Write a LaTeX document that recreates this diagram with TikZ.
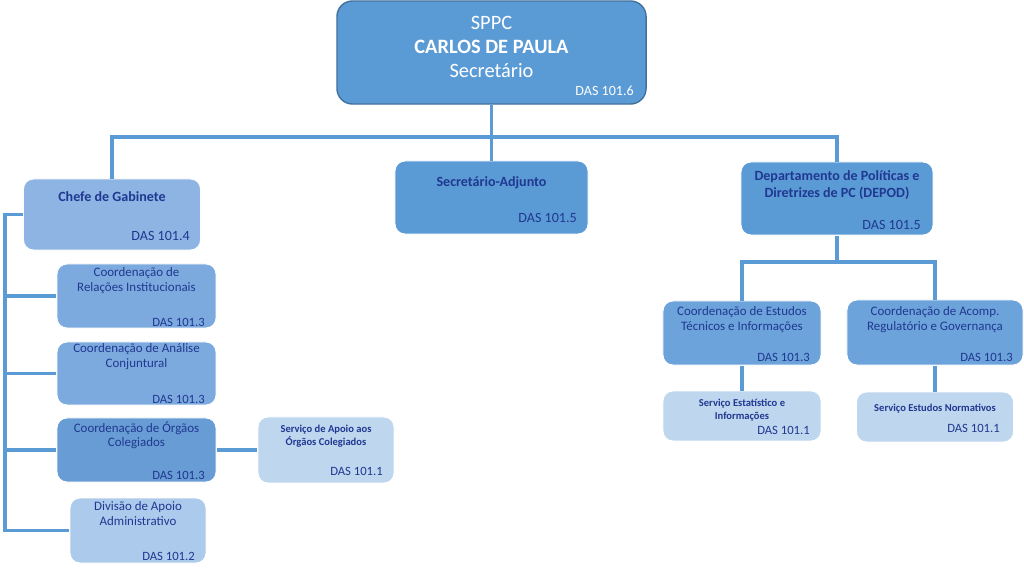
\documentclass[tikz,border=0pt]{standalone}
\usepackage{fontspec}
\setmainfont{Carlito}
\definecolor{topblue}{RGB}{91,155,213}
\definecolor{topedge}{RGB}{65,113,156}
\definecolor{chefeblue}{RGB}{141,180,226}
\definecolor{coordblue}{RGB}{125,170,222}
\definecolor{cocblue}{RGB}{104,156,212}
\definecolor{estblue}{RGB}{108,163,218}
\definecolor{paleblue}{RGB}{190,214,238}
\definecolor{daablue}{RGB}{172,202,236}
\definecolor{navy}{RGB}{32,56,145}
\definecolor{linkblue}{RGB}{91,155,213}

\begin{document}
\begin{tikzpicture}[x=0.025cm,y=-0.025cm,
        box/.style 2 args={rectangle,rounded corners=7pt,draw=white,line width=0.7pt,
            inner sep=0pt,minimum width=#1*0.7113pt,minimum height=#2*0.7113pt},
        link/.style={draw=linkblue,line width=2.3pt},
        ttl/.style={text=navy,align=center,inner sep=0pt,anchor=north},
        big/.style={font=\fontsize{10}{12}\selectfont\bfseries},
        coord/.style={font=\fontsize{9.2}{10.6}\selectfont},
        serv/.style={font=\fontsize{7.5}{9}\selectfont\bfseries},
        das/.style={text=navy,inner sep=0pt,anchor=base east,font=\fontsize{9}{10}\selectfont},
        dasbig/.style={das,font=\fontsize{10}{12}\selectfont}]
    \useasboundingbox (0,0) rectangle (1024,572);

    % Secretary
    \node[box={309}{103},fill=topblue,draw=topedge,line width=1pt,rounded corners=11pt] (top) at (491.5,52.5) {};
    \node[ttl,text=white,font=\fontsize{14.5}{17}\selectfont] (topttl) at (491.5,16)
        {SPPC\\ \textbf{CARLOS DE PAULA}\\ Secretário};
    \node[dasbig,text=white] (topdas) at (634,95) {DAS 101.6};

    % Second level
    \node[box={177}{71},fill=chefeblue] (chefe) at (112,214.5) {};
    \node[ttl,big] (chefettl) at (112,191) {Chefe de Gabinete};
    \node[dasbig] (chefedas) at (190,240) {DAS 101.4};

    \node[box={193}{73},fill=topblue] (sa) at (491.5,197.5) {};
    \node[ttl,big] (sattl) at (491.5,176) {Secretário-Adjunto};
    \node[dasbig] (sadas) at (577,222) {DAS 101.5};

    \node[box={192}{73},fill=topblue] (depod) at (837,198.5) {};
    \node[ttl,big] (depodttl) at (837,170) {Departamento de Políticas e\\ Diretrizes de PC (DEPOD)};
    \node[dasbig] (depoddas) at (921,229) {DAS 101.5};

    % Gabinete units
    \node[box={159}{64},fill=coordblue] (cri) at (136.5,296) {};
    \node[ttl,coord] (crittl) at (136.5,267) {Coordenação de\\ Relações Institucionais};
    \node[das] (cridas) at (205,326) {DAS 101.3};

    \node[box={159}{63},fill=coordblue] (cac) at (136.5,373.5) {};
    \node[ttl,coord] (cacttl) at (136.5,343) {Coordenação de Análise\\ Conjuntural};
    \node[das] (cacdas) at (205,403) {DAS 101.3};

    \node[box={159}{64},fill=cocblue] (coc) at (136.5,450) {};
    \node[ttl,coord] (cocttl) at (136.5,421) {Coordenação de Órgãos\\ Colegiados};
    \node[das] (cocdas) at (205,479) {DAS 101.3};

    \node[box={136}{66},fill=paleblue] (sao) at (326,450) {};
    \node[ttl,serv] (saottl) at (326,425) {Serviço de Apoio aos\\ Órgãos Colegiados};
    \node[das] (saodas) at (383,475) {DAS 101.1};

    \node[box={136}{65},fill=daablue] (daa) at (138,530.5) {};
    \node[ttl,coord] (daattl) at (138,501) {Divisão de Apoio\\ Administrativo};
    \node[das] (daadas) at (195,560) {DAS 101.2};

    % DEPOD units
    \node[box={158}{64},fill=estblue] (ceti) at (742,333) {};
    \node[ttl,coord] (cetittl) at (742,306) {Coordenação de Estudos\\ Técnicos e Informações};
    \node[das] (cetidas) at (810,361) {DAS 101.3};

    \node[box={176}{65},fill=estblue] (carg) at (935,332.5) {};
    \node[ttl,coord] (cargttl) at (935,306) {Coordenação de Acomp.\\ Regulatório e Governança};
    \node[das] (cargdas) at (1013,361) {DAS 101.3};

    \node[box={158}{50},fill=paleblue] (sei) at (742,416) {};
    \node[ttl,serv] (seittl) at (742,399) {Serviço Estatístico e\\ Informações};
    \node[das] (seidas) at (810,434) {DAS 101.1};

    \node[box={157}{50},fill=paleblue] (sen) at (935,417) {};
    \node[ttl,serv] (senttl) at (935,404) {Serviço Estudos Normativos};
    \node[das] (sendas) at (1000,432) {DAS 101.1};

    % Connectors
    \coordinate (busL) at (112,137);
    \coordinate (busR) at (837,137);
    \coordinate (spine) at (5,530.5);
    \coordinate (sbus) at (837,262);

    \draw[link] (top.south) -- (sa.north);
    \draw[link] (chefe.north) -- (busL) -- (busR) -- (depod.north);
    \draw[link] (chefe.west) -| (spine) -- (daa.west);
    \foreach \n in {cri,cac,coc}
        \draw[link] (\n.west) -- (\n.west -| spine);
    \draw[link] (coc.east) -- (sao.west);

    \draw[link] (depod.south) -- (sbus);
    \draw[link] (ceti.north) |- (sbus) -| (carg.north);
    \draw[link] (ceti.south) -- (sei.north);
    \draw[link] (carg.south) -- (sen.north);

\end{tikzpicture}
\end{document}
